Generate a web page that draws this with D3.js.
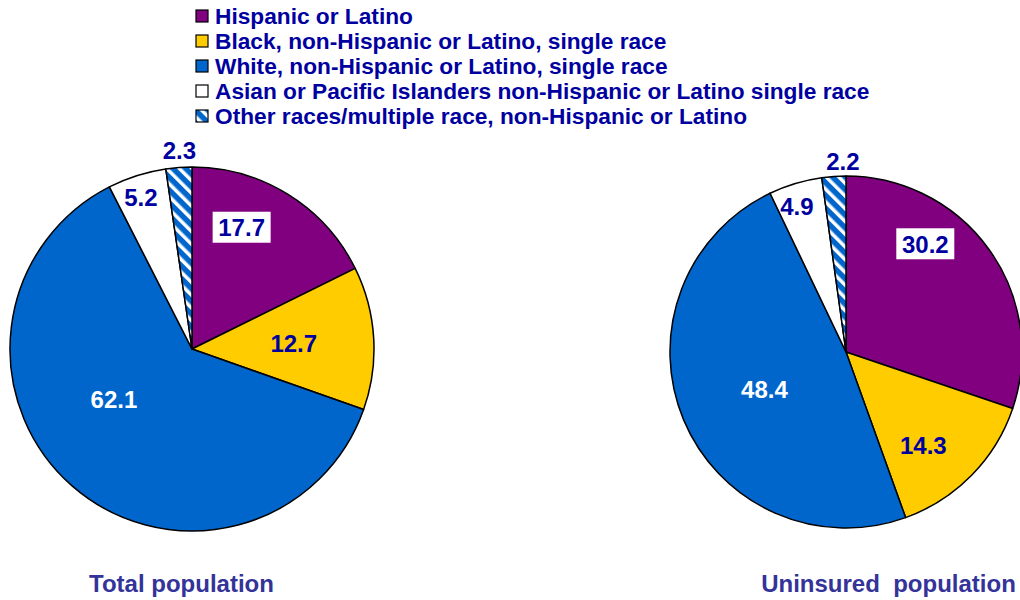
<!DOCTYPE html>
<html><head><meta charset="utf-8">
<script src="https://cdn.jsdelivr.net/npm/d3@7"></script>
<style>body{margin:0;background:#fff;}svg{display:block;font-family:"Liberation Sans",Arial,sans-serif;font-weight:bold;}</style>
</head><body>
<svg id="c" width="1020" height="600"></svg>
<script>
const categories = ["Hispanic or Latino","Black, non-Hispanic or Latino, single race","White, non-Hispanic or Latino, single race","Asian or Pacific Islanders non-Hispanic or Latino single race","Other races/multiple race, non-Hispanic or Latino"];
const totalValues = [17.7, 12.7, 62.1, 5.2, 2.3];
const uninsuredValues = [30.2, 14.3, 48.4, 4.9, 2.2];
const pieTitles = ["Total population", "Uninsured  population"];

const colors = ["#800080","#FFCC00","#0066CC","#FFFFFF","url(#hatch)"];
const labelColors = ["#0000A0","#0000A0","#FFFFFF","#0000A0","#0000A0"];
const svg = d3.select("#c");
const defs = svg.append("defs");
const pat = defs.append("pattern").attr("id","hatch").attr("patternUnits","userSpaceOnUse")
  .attr("width",9).attr("height",9).attr("patternTransform","rotate(-45)");
pat.append("rect").attr("width",9).attr("height",9).attr("fill","#0066CC");
pat.append("rect").attr("x",0).attr("width",3.5).attr("height",9).attr("fill","#fff");

// legend
const leg = svg.append("g");
categories.forEach((c,i)=>{
  const y = 16 + i*25;
  leg.append("rect").attr("x",196).attr("y",y-6).attr("width",12).attr("height",12)
    .attr("fill",colors[i]).attr("stroke","#000").attr("stroke-width",1.2);
  leg.append("text").attr("x",215).attr("y",y).attr("dy","0.35em").attr("fill","#0000A0")
    .attr("font-size",22.7).text(c);
});

// label layout: [angle offset in degrees from centroid, radius fraction, boxed]
const layouts = [
  {cx:192, cy:349, r:182, values: totalValues, lab: [[-9.6,0.72,true],[0.6,0.56,false],[16,0.51,false],[-1,0.88,false],[0.5,1.09,false]], title: pieTitles[0], tx:181.5},
  {cx:846, cy:352, r:176, values: uninsuredValues, lab: [[-18,0.76,true],[6,0.69,false],[-2,0.51,false],[-2,0.87,false],[3,1.08,false]], title: pieTitles[1], tx:888.5}
];
const pie = d3.pie().sort(null).value(d=>d);
layouts.forEach(L=>{
  const g = svg.append("g").attr("transform",`translate(${L.cx},${L.cy})`);
  const arc = d3.arc().innerRadius(0).outerRadius(L.r);
  const arcs = pie(L.values);
  g.selectAll("path").data(arcs).join("path").attr("d",arc)
    .attr("fill",(d,i)=>colors[i]).attr("stroke","#000").attr("stroke-width",1.5).attr("stroke-linejoin","round");
  arcs.forEach((d,i)=>{
    const [off,rf,boxed] = L.lab[i];
    const a = (d.startAngle+d.endAngle)/2 + off*Math.PI/180;
    const x = Math.sin(a)*L.r*rf, y = -Math.cos(a)*L.r*rf;
    if(boxed){
      g.append("rect").attr("x",x-29).attr("y",y-16).attr("width",58).attr("height",31).attr("fill","#fff");
    }
    g.append("text").attr("x",x).attr("y",y).attr("dy","0.35em").attr("text-anchor","middle")
      .attr("font-size",24).attr("fill",labelColors[i]).text(d3.format(".1f")(d.data));
  });
  svg.append("text").attr("x",L.tx).attr("y",584).attr("dy","0.35em").attr("text-anchor","middle")
    .attr("font-size",24).attr("fill","#333399").style("white-space","pre").text(L.title);
});
</script>
</body></html>
